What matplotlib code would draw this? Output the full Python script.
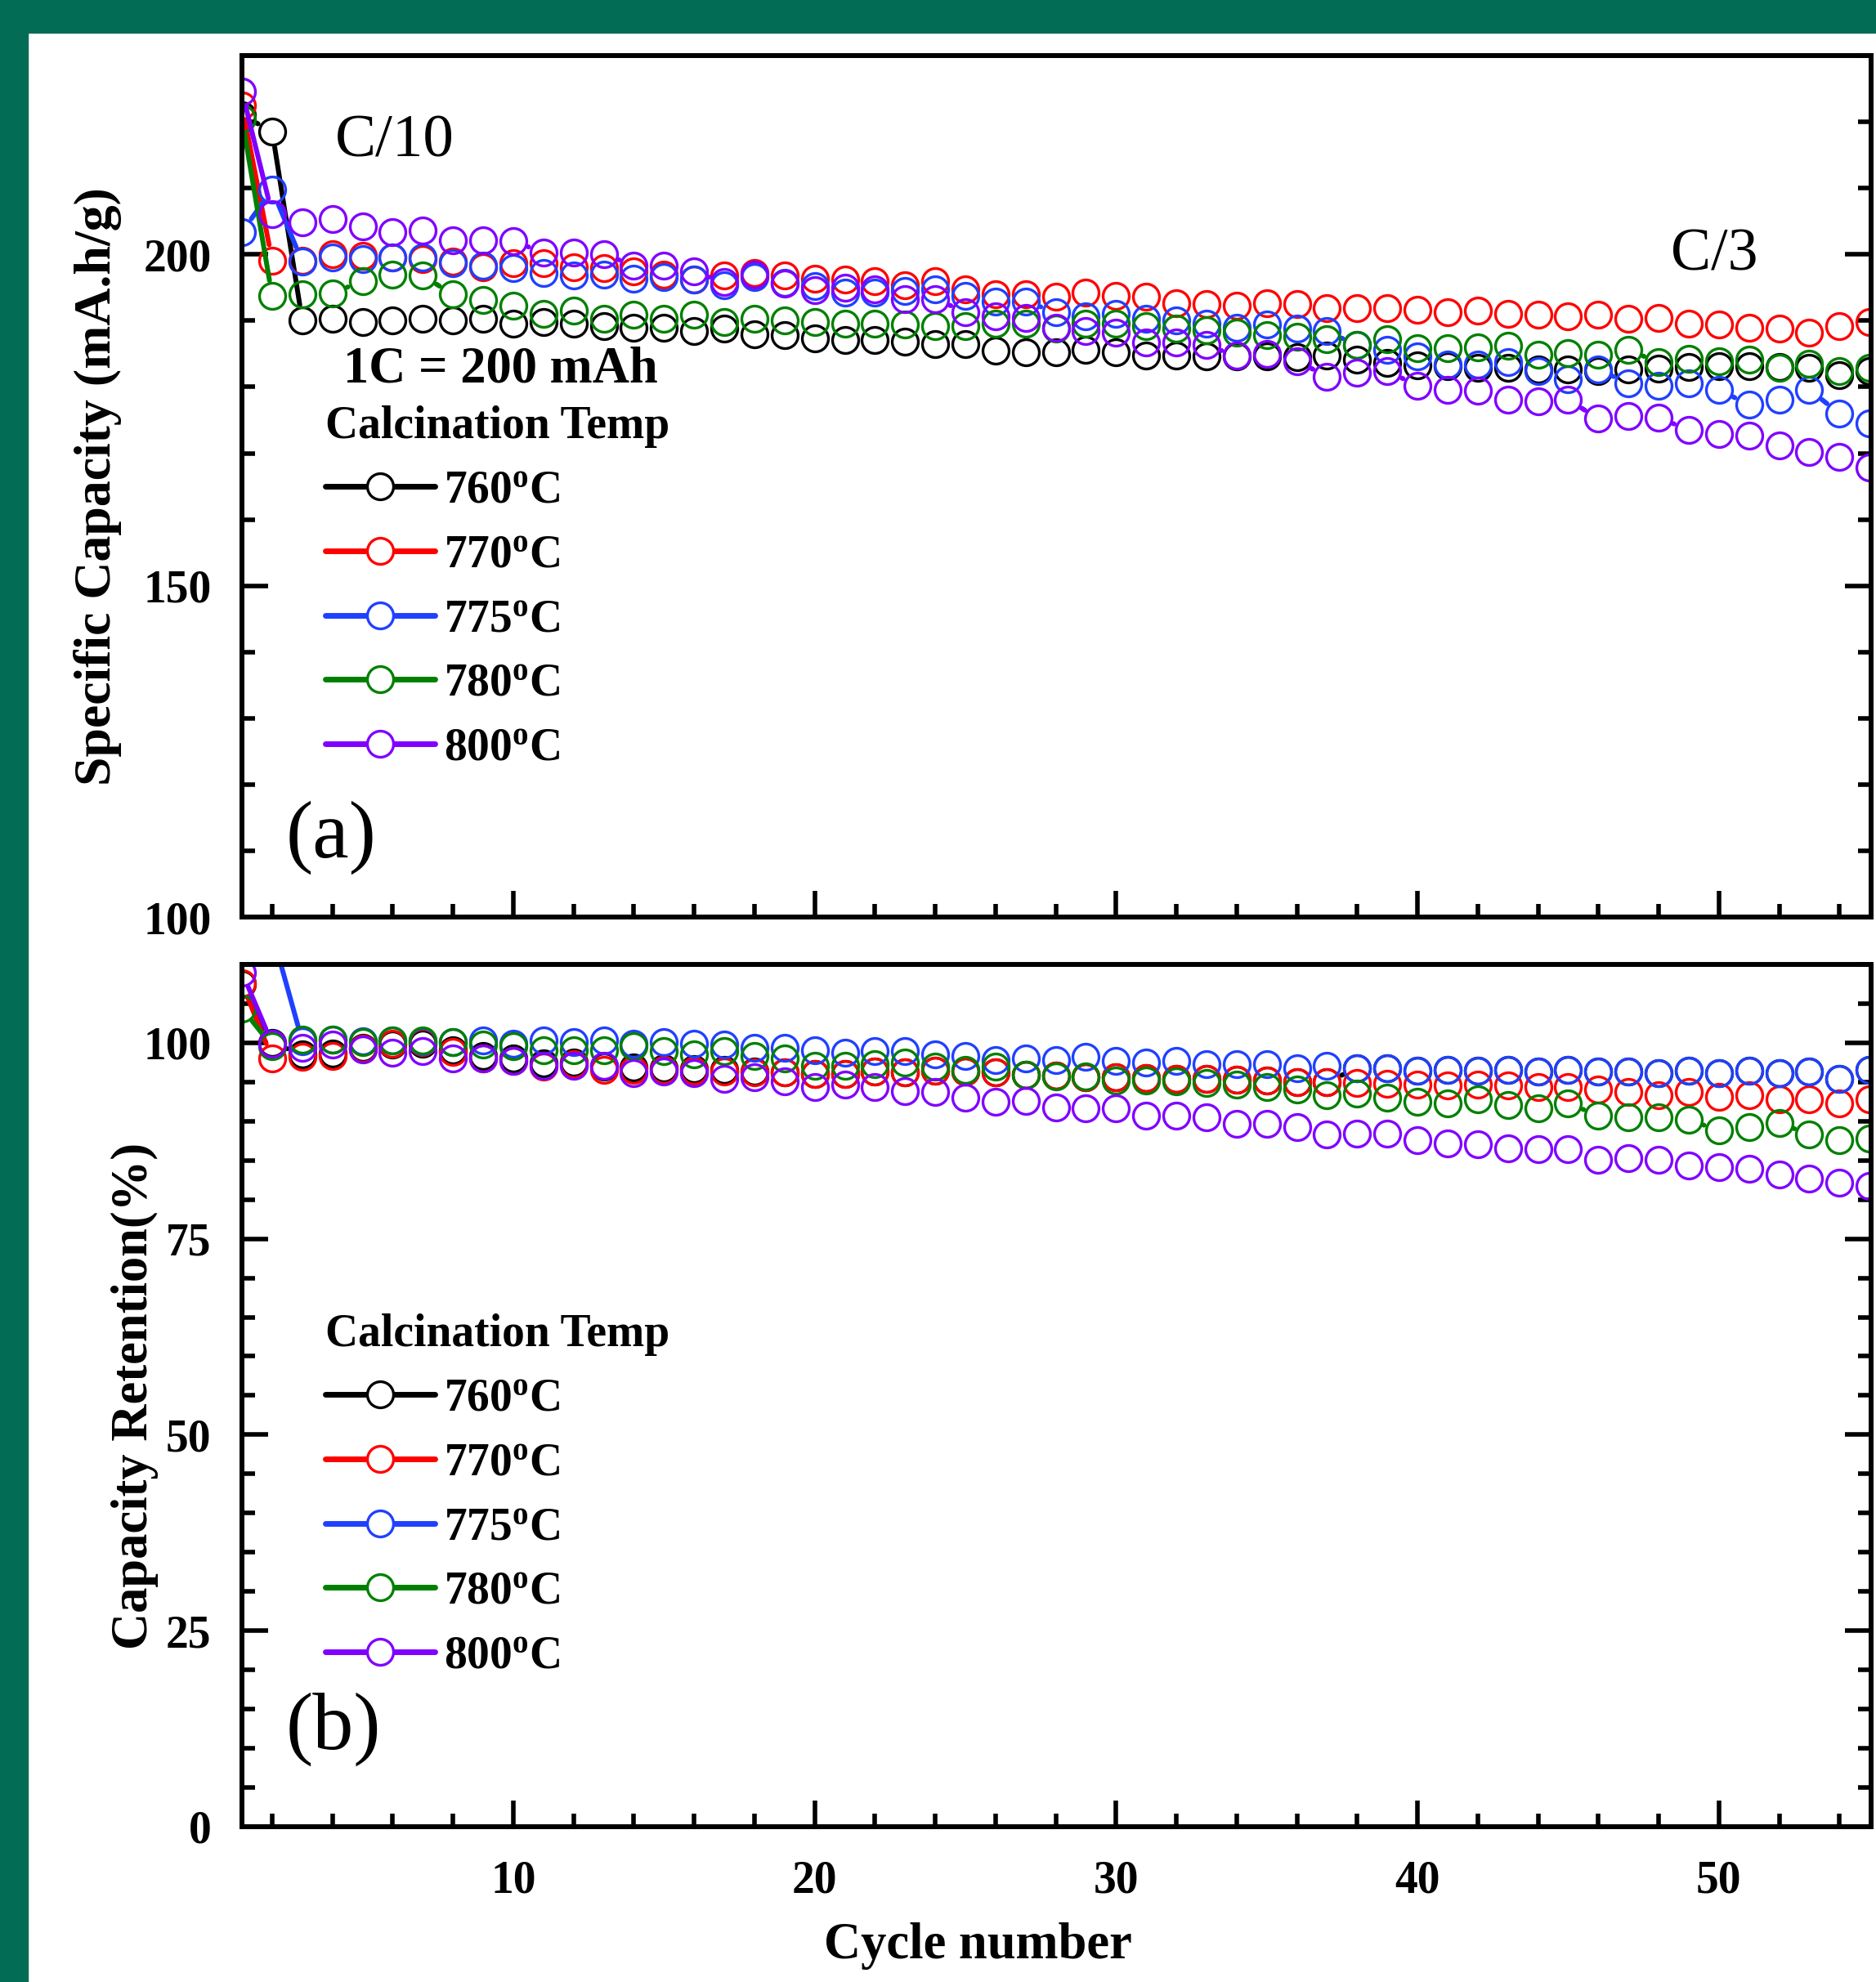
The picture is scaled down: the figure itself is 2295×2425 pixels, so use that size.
import numpy as np
import matplotlib
matplotlib.use("Agg")
import matplotlib.pyplot as plt
from matplotlib.collections import LineCollection
from matplotlib.lines import Line2D
from matplotlib.patches import Rectangle
from matplotlib.ticker import MultipleLocator

plt.rcParams["font.family"] = ["Liberation Serif", "DejaVu Serif"]
plt.rcParams["font.weight"] = "bold"
plt.rcParams["mathtext.fontset"] = "custom"
plt.rcParams["mathtext.rm"] = "Liberation Serif:bold"
plt.rcParams["mathtext.bf"] = "Liberation Serif:bold"
plt.rcParams["mathtext.it"] = "Liberation Serif:bold:italic"

# ---------------------------------------------------------------------------
# data, cycles 1..55
# ---------------------------------------------------------------------------
cycles = np.arange(1, 56)
labels = [r"760$^{\mathbf{o}}$C", r"770$^{\mathbf{o}}$C", r"775$^{\mathbf{o}}$C",
          r"780$^{\mathbf{o}}$C", r"800$^{\mathbf{o}}$C"]
colors = ["#000000", "#ff0000", "#2040ff", "#008000", "#8000ff"]

# (a) specific capacity, mA.h/g
cap_760 = [221.0, 218.6,
           190.0, 190.25, 189.8, 190.0, 190.25, 190.0, 190.25, 189.6, 189.8, 189.6,
           189.2, 189.0, 189.0, 188.4, 188.8, 188.0, 187.8,
           187.35, 187.15, 187.15, 186.9, 186.5, 186.5, 185.5, 185.2, 185.2, 185.6,
           185.2, 184.8, 184.8, 184.6, 184.6,
           184.6, 184.5, 184.7, 184.1, 183.6, 183.25, 183.1, 182.85, 182.85, 182.6,
           182.6, 182.4, 182.6, 182.8, 183.0, 183.1, 183.1, 183.0, 182.85, 181.8, 182.4]
cap_770 = [222.5, 199.1,
           199.1, 200.0, 199.8, 199.5, 199.3, 198.9, 198.1, 198.7, 198.7, 198.1,
           197.9, 197.4, 197.0, 196.2, 196.8, 197.2, 196.8,
           196.4, 196.2, 196.0, 195.4, 196.0, 194.8, 194.0, 194.0, 193.6, 194.2,
           193.8, 193.6, 192.7, 192.5, 192.3,
           192.7, 192.5, 191.9, 191.9, 191.9, 191.7, 191.3, 191.5, 191.1, 190.9,
           190.7, 190.9, 190.25, 190.45, 189.6, 189.4, 189.0, 188.8, 188.2, 189.2, 189.8]
cap_775 = [203.4, 209.8,
           198.9, 199.5, 199.3, 199.5, 199.5, 198.7, 198.3, 197.9, 197.2, 196.8,
           197.0, 196.4, 196.6, 196.2, 195.4, 196.6, 195.7,
           195.2, 194.2, 194.2, 194.5, 194.8, 193.7, 192.9, 192.9, 191.3, 190.7,
           191.1, 190.25, 190.0, 189.6, 189.0,
           189.4, 188.8, 188.4, 186.3, 185.6, 184.6, 183.4, 183.4, 183.75, 182.4,
           181.2, 182.6, 180.6, 180.2, 180.6, 179.6, 177.3, 178.1, 179.6, 176.0, 174.55]
cap_780 = [220.5, 193.7,
           193.95, 194.15, 196.0, 197.0, 196.8, 193.95, 193.1, 192.3, 191.1, 191.5,
           190.25, 190.9, 190.25, 190.9, 189.8, 190.25, 190.0,
           189.8, 189.6, 189.6, 189.4, 189.2, 189.2, 189.6, 189.6, 188.8, 189.6,
           189.6, 189.2, 188.8, 188.6, 188.2,
           187.85, 187.6, 187.2, 186.4, 187.2, 185.8, 185.8, 186.0, 186.2, 184.9,
           185.1, 184.9, 185.6, 183.7, 184.3, 183.9, 184.1, 182.85, 183.5, 182.4, 182.85]
cap_800 = [224.6, 206.1,
           204.8, 205.3, 204.2, 203.4, 203.6, 202.2, 202.2, 202.0, 200.3, 200.3,
           200.1, 198.3, 198.3, 197.4, 195.8, 197.0, 195.6,
           194.6, 195.0, 194.8, 193.3, 193.3, 191.3, 190.7, 190.45, 189.0, 188.4,
           188.2, 186.75, 186.75, 186.3, 184.7,
           185.0, 183.9, 181.6, 182.2, 182.4, 180.2, 179.6, 179.4, 178.1, 177.9,
           178.1, 175.2, 175.6, 175.4, 173.5, 172.9, 172.7, 171.2, 170.2, 169.4, 167.9]

# (b) capacity retention, %
ret_760 = [107.5, 100.0,
           98.5, 98.6, 99.4, 99.8, 99.9, 99.0, 98.3, 98.0, 97.4, 97.5,
           97.0, 96.9, 96.8, 96.7, 96.6, 96.3, 96.2,
           96.0, 96.0, 96.3, 96.2, 96.4, 96.3, 96.2, 95.9, 95.8, 95.6,
           95.6, 95.5, 95.4, 95.4, 95.3,
           95.2, 95.0, 95.0, 96.8, 96.8, 96.45, 96.6, 96.45, 96.6, 96.3,
           96.6, 96.3, 96.3, 96.1, 96.45, 96.1, 96.45, 96.1, 96.3, 95.4, 96.6]
ret_770 = [107.6, 98.0,
           98.2, 98.35, 99.3, 99.9, 100.1, 98.8, 98.0, 97.7, 97.0, 97.3,
           96.6, 96.5, 96.5, 96.4, 96.3, 96.2, 96.2,
           96.0, 96.0, 96.3, 96.2, 96.4, 96.3, 96.2, 95.9, 95.8, 95.6,
           95.6, 95.5, 95.4, 95.4, 95.3,
           95.2, 95.0, 95.0, 94.9, 94.8, 94.7, 94.6, 94.7, 94.6, 94.4,
           94.4, 94.0, 93.7, 93.3, 93.7, 93.1, 93.3, 92.8, 92.8, 92.3, 92.8]
ret_775 = [118.0, 114.0,
           100.2, 100.4, 100.2, 100.3, 100.2, 100.1, 100.3, 99.9, 100.3, 100.1,
           100.3, 99.9, 100.1, 99.9, 99.75, 99.4, 99.4,
           99.05, 98.7, 98.9, 98.9, 98.5, 98.35, 97.8, 98.0, 97.8, 98.2,
           97.7, 97.5, 97.7, 97.3, 97.3,
           97.3, 96.8, 97.1, 96.8, 96.8, 96.45, 96.6, 96.45, 96.6, 96.3,
           96.6, 96.3, 96.3, 96.1, 96.45, 96.1, 96.45, 96.1, 96.3, 95.4, 96.6]
ret_780 = [104.4, 99.6,
           100.4, 100.4, 100.1, 100.3, 100.3, 100.1, 99.75, 99.6, 99.05, 99.05,
           99.05, 99.6, 98.9, 98.5, 98.9, 98.35, 98.0,
           97.1, 97.1, 97.3, 97.5, 97.0, 96.6, 97.0, 95.9, 95.75, 95.75,
           95.2, 95.2, 95.05, 94.9, 94.7,
           94.4, 94.0, 93.3, 93.5, 93.0, 92.45, 92.3, 92.8, 92.1, 91.6,
           92.3, 90.7, 90.5, 90.5, 90.2, 88.8, 89.3, 89.8, 88.3, 87.6, 87.75]
ret_800 = [109.0, 99.9,
           99.4, 99.75, 99.2, 98.7, 98.9, 98.0, 98.0, 97.7, 97.1, 97.1,
           97.1, 96.1, 96.3, 96.1, 95.4, 95.6, 95.05,
           94.4, 94.7, 94.4, 93.8, 93.7, 93.0, 92.45, 92.6, 91.75, 91.6,
           91.6, 90.7, 90.7, 90.5, 89.7,
           89.7, 89.3, 88.3, 88.4, 88.4, 87.6, 87.2, 87.05, 86.5, 86.4,
           86.4, 85.1, 85.3, 85.1, 84.3, 84.1, 83.9, 83.2, 82.7, 82.2, 81.7]

capacity = [cap_760, cap_770, cap_775, cap_780, cap_800]
retention = [ret_760, ret_770, ret_775, ret_780, ret_800]

FONT = "Liberation Serif"
MS, MEW, LW = 23, 2.4, 4.3


def gapped_lines(ax, x, y, color, gap=19.5):
    """Origin-style line: segments stop short of the open circle markers."""
    pts = ax.transData.transform(np.column_stack([x, y]))
    inv = ax.transData.inverted()
    segs = []
    for p0, p1 in zip(pts[:-1], pts[1:]):
        d = p1 - p0
        length = np.hypot(*d)
        if length <= 2 * gap:
            continue
        u = d / length
        segs.append(inv.transform(np.array([p0 + u * gap, p1 - u * gap])))
    ax.add_collection(LineCollection(segs, colors=color, linewidths=LW,
                                     capstyle="round"), autolim=False)


def style_axes(ax, ymajor, yminor):
    ax.set_xlim(1, 55.05)
    ax.xaxis.set_major_locator(MultipleLocator(10))
    ax.xaxis.set_minor_locator(MultipleLocator(2))
    ax.yaxis.set_major_locator(MultipleLocator(ymajor))
    ax.yaxis.set_minor_locator(MultipleLocator(yminor))
    ax.tick_params(which="both", direction="in", width=4, right=True, top=False,
                   labelsize=40)
    ax.tick_params(which="major", length=23)
    ax.tick_params(which="minor", length=11.5)
    ax.tick_params(axis="y", pad=27)
    ax.tick_params(axis="x", pad=29)
    for s in ax.spines.values():
        s.set_linewidth(4.3)
    for t in ax.get_xticklabels() + ax.get_yticklabels():
        t.set_fontweight("bold")


def add_legend(ax, y_anchor):
    handles = [(Line2D([], [], color=c, lw=5, solid_capstyle="round"),
                Line2D([], [], color=c, marker="o", ms=MS, mew=MEW, mfc="white",
                       ls="none")) for c in colors]
    ax.legend(handles, labels, title="Calcination Temp", loc="upper left",
              bbox_to_anchor=(0.0512, y_anchor), frameon=False, borderpad=0,
              borderaxespad=0, handlelength=2.41, handletextpad=0.19,
              labelspacing=0.48, alignment="left",
              prop=dict(family=FONT, weight="bold", size=40),
              title_fontproperties=dict(family=FONT, weight="bold", size=40))


fig = plt.figure(figsize=(22.95, 24.25), dpi=100)
fig.patches.append(Rectangle((0, 1 - 40 / 2425), 1, 40 / 2425,
                             transform=fig.transFigure, color="#036c54", zorder=0))
fig.patches.append(Rectangle((0, 0), 34 / 2295, 1,
                             transform=fig.transFigure, color="#036c54", zorder=0))

ax1 = fig.add_axes([0.129, 0.5373, 0.8684, 0.4346])
ax2 = fig.add_axes([0.129, 0.0784, 0.8684, 0.4350])

ax1.set_ylim(100, 230)
ax2.set_ylim(0, 110)
style_axes(ax1, 50, 10)
style_axes(ax2, 25, 5)
ax1.tick_params(labelbottom=False)

for ax, series in ((ax1, capacity), (ax2, retention)):
    for vals, c in zip(series, colors):
        gapped_lines(ax, cycles, vals, c)
        ax.plot(cycles, vals, "o", ms=MS, mew=MEW, mfc="none", mec=c)

add_legend(ax1, 0.594)
add_legend(ax2, 0.595)

ax1.text(0.0572, 0.8826, "C/10", transform=ax1.transAxes, fontsize=54,
         fontweight="normal", va="baseline")
ax1.text(0.877, 0.7514, "C/3", transform=ax1.transAxes, fontsize=53,
         fontweight="normal", va="baseline")
ax1.text(0.0622, 0.6214, "1C = 200 mAh", transform=ax1.transAxes, fontsize=45,
         fontweight="bold", va="baseline")
ax1.text(0.0268, 0.0693, "(a)", transform=ax1.transAxes, fontsize=72,
         fontweight="normal", va="baseline")
ax2.text(0.0268, 0.090, "(b)", transform=ax2.transAxes, fontsize=72,
         fontweight="normal", va="baseline")

ax1.set_ylabel("Specific Capacity (mA.h/g)", fontsize=46, fontweight="bold")
ax1.yaxis.label.set_va("center")
ax1.yaxis.set_label_coords(-0.0888, 0.5)
ax2.set_ylabel("Capacity Retention(%)", fontsize=45, fontweight="bold")
ax2.yaxis.label.set_va("center")
ax2.yaxis.set_label_coords(-0.0657, 0.5)
ax2.set_xlabel("Cycle number", fontsize=45, fontweight="bold")
ax2.xaxis.label.set_va("center")
ax2.xaxis.set_label_coords(0.452, -0.1384)

fig.savefig("out.png", dpi=100)
